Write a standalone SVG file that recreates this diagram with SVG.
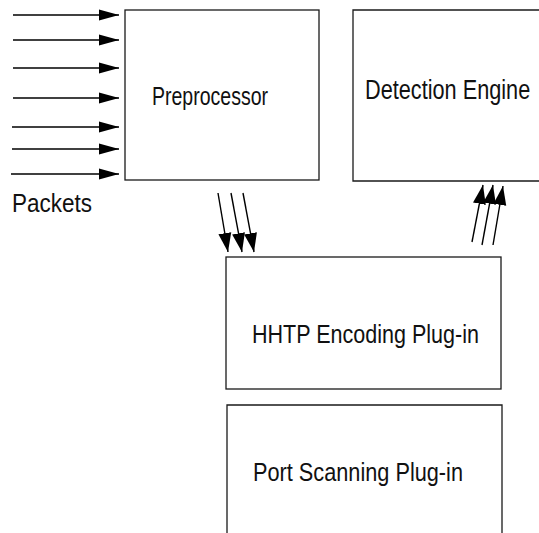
<svg xmlns="http://www.w3.org/2000/svg" width="539" height="533" viewBox="0 0 539 533">
  <style>
    .box { fill: #ffffff; stroke: #1a1a1a; stroke-width: 1.3; }
    .lbl { font-family: "Liberation Sans", Arial, sans-serif; fill: #111111; }
    .wire { stroke: #000000; stroke-width: 1.4; fill: none; }
    .flat { marker-end: url(#head); }
    .slant { marker-end: url(#head-big); }
  </style>
  <defs>
    <marker id="head" markerUnits="userSpaceOnUse" markerWidth="22" markerHeight="13" refX="20" refY="6" orient="auto">
      <path d="M0,0.5 L20,6 L0,11.5 z" fill="#000000"/>
    </marker>
    <marker id="head-big" markerUnits="userSpaceOnUse" markerWidth="21" markerHeight="15" refX="19" refY="7" orient="auto">
      <path d="M0,0.5 L19,7 L0,13.5 z" fill="#000000"/>
    </marker>
  </defs>
  <rect width="539" height="533" fill="#ffffff"/>

  <g id="preprocessor">
    <rect class="box" x="125" y="10" width="194" height="170"/>
    <text class="lbl" x="152" y="105" font-size="25" textLength="116" lengthAdjust="spacingAndGlyphs">Preprocessor</text>
  </g>

  <g id="detection-engine">
    <path class="box" d="M540,10 H353 V181 H540"/>
    <text class="lbl" transform="translate(365,99) scale(0.81,1)" x="0" y="0" font-size="27" textLength="204" lengthAdjust="spacingAndGlyphs">Detection Engine</text>
  </g>

  <g id="http-plugin">
    <rect class="box" x="226" y="257" width="275" height="132"/>
    <text class="lbl" x="252" y="343" font-size="26" textLength="227" lengthAdjust="spacingAndGlyphs">HHTP Encoding Plug-in</text>
  </g>

  <g id="portscan-plugin">
    <path class="box" d="M227,540 V405 H502 V540"/>
    <text class="lbl" x="253" y="481" font-size="26" textLength="210" lengthAdjust="spacingAndGlyphs">Port Scanning Plug-in</text>
  </g>

  <g id="packets">
    <text class="lbl" x="12" y="212" font-size="25" textLength="80" lengthAdjust="spacingAndGlyphs">Packets</text>
  </g>

  <g id="connectors">
    <!-- incoming packets -->
    <line class="wire flat" x1="13" y1="15" x2="119" y2="15"/>
    <line class="wire flat" x1="13" y1="40" x2="119" y2="40"/>
    <line class="wire flat" x1="13" y1="68" x2="119" y2="68"/>
    <line class="wire flat" x1="13" y1="98" x2="119" y2="98"/>
    <line class="wire flat" x1="12" y1="127" x2="119" y2="127"/>
    <line class="wire flat" x1="12" y1="149" x2="119" y2="149"/>
    <line class="wire flat" x1="11" y1="174" x2="119" y2="174"/>
    <!-- preprocessor to plug-ins -->
    <line class="wire slant" x1="218" y1="193" x2="228" y2="252"/>
    <line class="wire slant" x1="231" y1="193" x2="242" y2="252"/>
    <line class="wire slant" x1="243" y1="193" x2="254" y2="252"/>
    <!-- plug-ins to detection engine -->
    <line class="wire slant" x1="472" y1="242" x2="483" y2="185"/>
    <line class="wire slant" x1="482" y1="245" x2="493" y2="185"/>
    <line class="wire slant" x1="493" y1="245" x2="503" y2="186"/>
  </g>
</svg>
